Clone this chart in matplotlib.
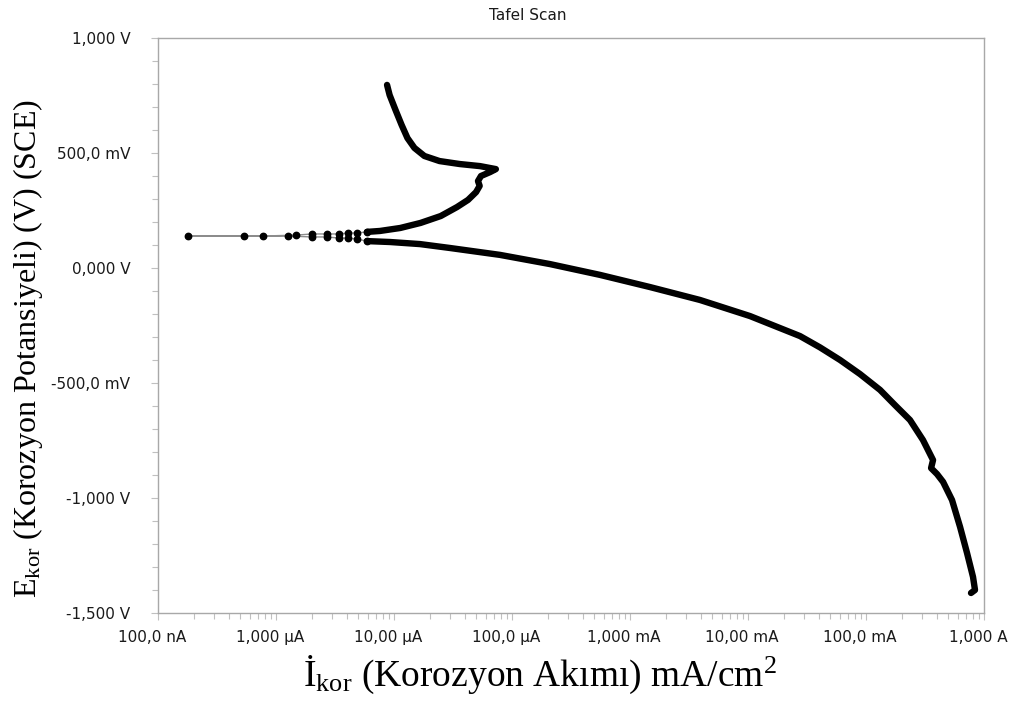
import matplotlib
matplotlib.use("Agg")
import matplotlib.pyplot as plt
import matplotlib.transforms as mtransforms
from matplotlib.ticker import LogLocator, NullFormatter, FixedLocator, MultipleLocator

# Cathodic branch: scan starts at -1.41 V and rises toward the corrosion potential (I in A, E in V)
cath_current = [0.776, 0.839, 0.807, 0.718, 0.627, 0.536, 0.450, 0.400, 0.356, 0.370,
                0.304, 0.236, 0.176, 0.1315, 0.0889, 0.0603, 0.0407, 0.0276, 0.0104,
                3.92e-3, 1.48e-3, 5.57e-4, 2.10e-4, 7.91e-5, 2.98e-5, 1.66e-5, 9.25e-6, 5.90e-6]
cath_potential = [-1.413, -1.400, -1.343, -1.239, -1.126, -1.009, -0.930, -0.896, -0.870, -0.835,
                  -0.748, -0.661, -0.596, -0.530, -0.461, -0.400, -0.345, -0.296, -0.209,
                  -0.139, -0.083, -0.030, 0.017, 0.057, 0.087, 0.104, 0.113, 0.117]

# Points around the corrosion potential where |I| passes through its minimum
ecorr_current = [5.90e-6, 4.85e-6, 4.07e-6, 3.42e-6, 2.70e-6, 2.02e-6, 1.26e-6, 5.36e-7, 1.80e-7,
                 7.76e-7, 1.48e-6, 2.02e-6, 2.70e-6, 3.42e-6, 4.07e-6, 4.85e-6, 5.90e-6]
ecorr_potential = [0.117, 0.126, 0.130, 0.130, 0.135, 0.135, 0.139, 0.139, 0.139,
                   0.139, 0.143, 0.148, 0.148, 0.148, 0.152, 0.152, 0.157]

# Anodic branch with the active-passive nose and return up to +0.8 V
anod_current = [5.90e-6, 7.60e-6, 1.13e-5, 1.68e-5, 2.49e-5, 3.42e-5, 4.24e-5, 4.96e-5,
                5.32e-5, 5.15e-5, 5.46e-5, 6.52e-5, 7.30e-5, 5.36e-5, 3.61e-5, 2.43e-5,
                1.81e-5, 1.49e-5, 1.30e-5, 1.16e-5, 1.03e-5, 9.18e-6, 8.73e-6]
anod_potential = [0.157, 0.161, 0.174, 0.196, 0.226, 0.265, 0.296, 0.330,
                  0.357, 0.378, 0.400, 0.417, 0.430, 0.443, 0.452, 0.465,
                  0.487, 0.522, 0.565, 0.622, 0.687, 0.752, 0.796]

x_ticks = [1e-7, 1e-6, 1e-5, 1e-4, 1e-3, 1e-2, 1e-1, 1e0]
x_tick_labels = ["100,0 nA", "1,000 µA", "10,00 µA", "100,0 µA",
                 "1,000 mA", "10,00 mA", "100,0 mA", "1,000 A"]
y_ticks = [1.0, 0.5, 0.0, -0.5, -1.0, -1.5]
y_tick_labels = ["1,000 V", "500,0 mV", "0,000 V", "-500,0 mV", "-1,000 V", "-1,500 V"]

plt.rcParams["mathtext.fontset"] = "custom"
plt.rcParams["mathtext.rm"] = "Liberation Serif"
plt.rcParams["mathtext.it"] = "Liberation Serif:italic"

fig = plt.figure(figsize=(10.13, 7.01), dpi=100)
ax = fig.add_axes([158 / 1013, 1 - 613 / 701, (984 - 158) / 1013, (613 - 38) / 701])

# dense branches
ax.plot(cath_current, cath_potential, color="black", lw=4.6,
        solid_capstyle="round", solid_joinstyle="round", zorder=3)
ax.plot(anod_current, anod_potential, color="black", lw=4.6,
        solid_capstyle="round", solid_joinstyle="round", zorder=3)
# sparse readings near Ecorr
ax.plot(ecorr_current, ecorr_potential, color="0.55", lw=1.0, zorder=2)
ax.plot(ecorr_current, ecorr_potential, linestyle="none", marker="o",
        markersize=4.6, color="black", zorder=4)

ax.set_xscale("log")
ax.set_xlim(1e-7, 1.0)
ax.set_ylim(-1.5, 1.0)

ax.xaxis.set_major_locator(FixedLocator(x_ticks))
ax.set_xticklabels(x_tick_labels)
ax.xaxis.set_minor_locator(LogLocator(base=10, subs=range(2, 10), numticks=20))
ax.xaxis.set_minor_formatter(NullFormatter())

ax.yaxis.set_major_locator(FixedLocator(y_ticks))
ax.set_yticklabels(y_tick_labels)
ax.yaxis.set_minor_locator(MultipleLocator(0.1))

frame_color = "#a8a8a8"
for s in ax.spines.values():
    s.set_color(frame_color)
    s.set_linewidth(1.0)

ax.tick_params(axis="both", which="both", direction="out", color="#c0c0c0",
               width=0.8, labelcolor="#1a1a1a", labelsize=11)
ax.tick_params(axis="both", which="major", length=5)
ax.tick_params(axis="both", which="minor", length=4)
ax.tick_params(axis="y", which="major", pad=15)
ax.tick_params(axis="x", which="major", pad=7)

for lab in ax.get_xticklabels():
    lab.set_fontfamily("DejaVu Sans")
    lab.set_transform(lab.get_transform() +
                      mtransforms.ScaledTranslation(-6 / 100, 0, fig.dpi_scale_trans))
for lab in ax.get_yticklabels():
    lab.set_fontfamily("DejaVu Sans")

fig.text(528 / 1013, 1 - 15 / 701, "Tafel Scan", ha="center", va="center",
         fontsize=11, color="#1a1a1a", family="DejaVu Sans")

fig.text(540 / 1013, 1 - 675 / 701, "İ$_\\mathrm{kor}$ (Korozyon Akımı) mA/cm$^2$",
         ha="center", va="center", fontsize=27, family="Liberation Serif", color="black")
fig.text(28 / 1013, 1 - 349 / 701, "E$_\\mathrm{kor}$ (Korozyon Potansiyeli) (V) (SCE)",
         ha="center", va="center", rotation=90, fontsize=23,
         family="Liberation Serif", color="black")

fig.savefig("out.png", dpi=100, facecolor="white")
